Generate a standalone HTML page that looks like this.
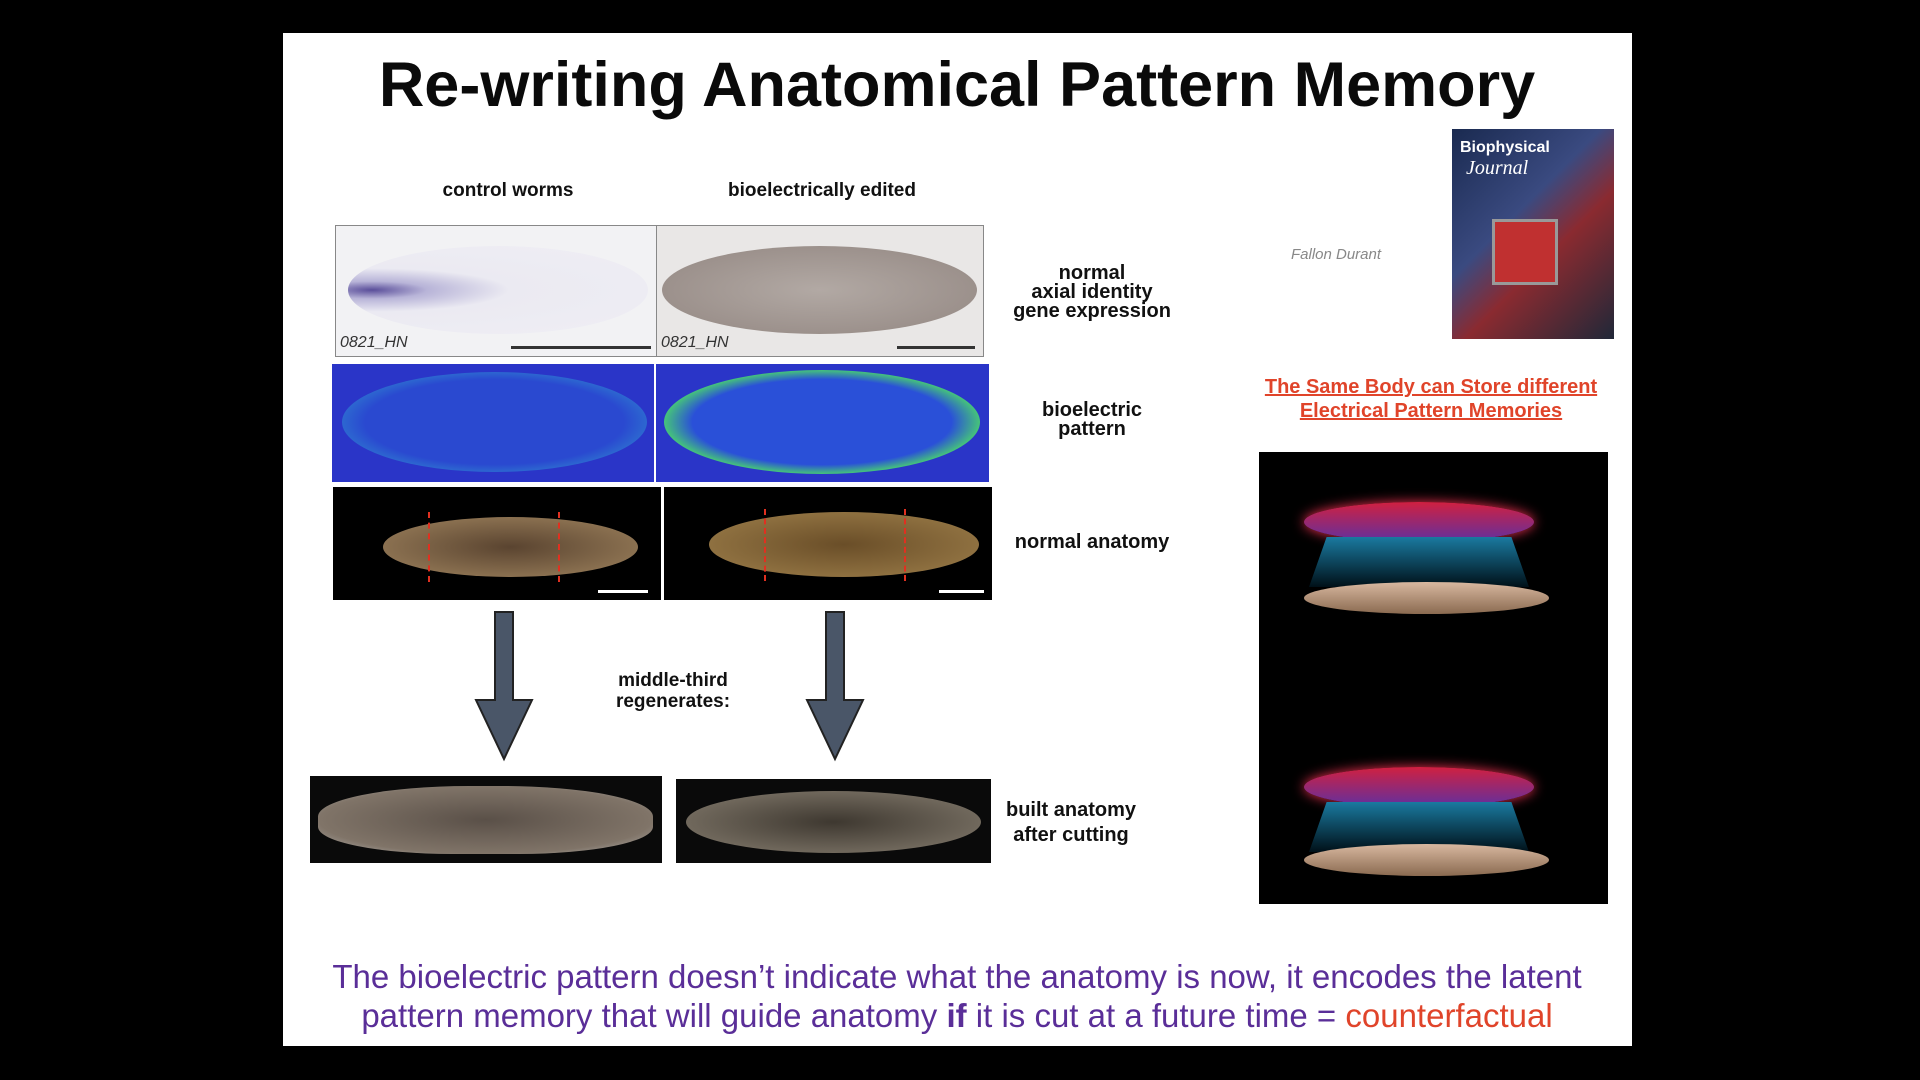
<!DOCTYPE html>
<html><head><meta charset="utf-8"><style>
body{margin:0;width:1920px;height:1080px;background:#000;position:relative;overflow:hidden;font-family:"Liberation Sans",sans-serif}
.slide{position:absolute;left:283px;top:33px;width:1349px;height:1013px;background:#fff}
.a{position:absolute}
.t{position:absolute;text-align:center;font-weight:bold;color:#111;font-size:19px;line-height:19px;transform:translateX(-50%);white-space:nowrap}
.img{position:absolute;overflow:hidden}
.worm{position:absolute;border-radius:50%}
</style></head><body>
<div class="slide"></div>
<div class="t" style="left:957px;top:50px;font-size:63px;line-height:70px;color:#0a0a0a">Re-writing Anatomical Pattern Memory</div>
<div class="t" style="left:508px;top:181px">control worms</div>
<div class="t" style="left:822px;top:181px">bioelectrically edited</div>

<div class="img" style="left:335px;top:225px;width:321px;height:130px;background:#f2f2f4;border:1px solid #888"><div class="worm" style="left:12px;top:20px;width:300px;height:88px;background:radial-gradient(ellipse at 8% 50%,#5a4e9a 0,#b8b4d8 14%,#ebeaf2 35%,#efeef4 100%)"></div><div class="a" style="left:4px;top:108px;font-style:italic;font-size:16px;color:#333">0821_HN</div><div class="a" style="left:175px;top:120px;width:140px;height:3px;background:#333"></div></div>
<div class="img" style="left:656px;top:225px;width:326px;height:130px;background:#e9e7e6;border:1px solid #888"><div class="worm" style="left:5px;top:20px;width:315px;height:88px;background:radial-gradient(ellipse at 50% 50%,#b2a9a4,#9c918c 70%)"></div><div class="a" style="left:4px;top:108px;font-style:italic;font-size:16px;color:#333">0821_HN</div><div class="a" style="left:240px;top:120px;width:78px;height:3px;background:#333"></div></div>
<div class="img" style="left:332px;top:364px;width:322px;height:118px;background:#2a35c8"><div class="worm" style="left:10px;top:8px;width:305px;height:100px;background:radial-gradient(ellipse,#2a49d0 60%,#2f8fd0 85%,#40c080 100%)"></div></div>
<div class="img" style="left:656px;top:364px;width:333px;height:118px;background:#2a35c8"><div class="worm" style="left:8px;top:6px;width:316px;height:104px;background:radial-gradient(ellipse,#2a50d8 58%,#48d070 72%,#c04040 80%,#50c070 90%,#2f6fd0 100%)"></div></div>
<div class="img" style="left:333px;top:487px;width:328px;height:113px;background:#000"><div class="worm" style="left:50px;top:30px;width:255px;height:60px;background:radial-gradient(ellipse,#5a4430,#8a7050 70%,#c8c0b0 100%)"></div><div class="a" style="left:95px;top:25px;height:70px;border-left:2px dashed #e03020"></div><div class="a" style="left:225px;top:25px;height:70px;border-left:2px dashed #e03020"></div><div class="a" style="left:265px;top:103px;width:50px;height:3px;background:#fff"></div></div>
<div class="img" style="left:664px;top:487px;width:328px;height:113px;background:#000"><div class="worm" style="left:45px;top:25px;width:270px;height:65px;background:radial-gradient(ellipse,#6a4e28,#8e7040 70%,#c8c0b0 100%)"></div><div class="a" style="left:100px;top:22px;height:72px;border-left:2px dashed #e03020"></div><div class="a" style="left:240px;top:22px;height:72px;border-left:2px dashed #e03020"></div><div class="a" style="left:275px;top:103px;width:45px;height:3px;background:#fff"></div></div>
<svg class="a" style="left:0;top:0" width="1920" height="1080"><g fill="#4a5668" stroke="#222" stroke-width="2"><polygon points="495,612 513,612 513,700 532,700 504,759 476,700 495,700"/><polygon points="826,612 844,612 844,700 863,700 835,759 807,700 826,700"/></g></svg>
<div class="t" style="left:673px;top:670px;line-height:21px">middle-third<br>regenerates:</div>
<div class="img" style="left:310px;top:776px;width:352px;height:87px;background:#0a0a0a"><div class="worm" style="left:8px;top:10px;width:335px;height:68px;border-radius:45% 45% 40% 40%;background:radial-gradient(ellipse,#5a5048,#807468 70%,#bbb 100%)"></div></div>
<div class="img" style="left:676px;top:779px;width:315px;height:84px;background:#0a0a0a"><div class="worm" style="left:10px;top:12px;width:295px;height:62px;background:radial-gradient(ellipse,#3e3830,#70685c 70%,#bab6b0 100%)"></div></div>
<div class="t" style="left:1092px;top:264px;font-size:20px;line-height:19px">normal<br>axial identity<br>gene expression</div>
<div class="t" style="left:1092px;top:401px;font-size:20px">bioelectric<br>pattern</div>
<div class="t" style="left:1092px;top:533px;font-size:20px">normal anatomy</div>
<div class="t" style="left:1071px;top:798px;line-height:25px;font-size:20px">built anatomy<br>after cutting</div>
<div class="t" style="left:1336px;top:245px;font-weight:normal;font-style:italic;color:#888;font-size:15px">Fallon Durant</div>
<div class="img" style="left:1452px;top:129px;width:162px;height:210px;background:linear-gradient(135deg,#1a2a50,#3a4a80 40%,#8a2a30 60%,#202838)"><div class="a" style="left:8px;top:10px;color:#fff;font-size:16px;font-weight:bold">Biophysical</div><div class="a" style="left:14px;top:28px;color:#fff;font-size:20px;font-style:italic;font-family:'Liberation Serif',serif">Journal</div><div class="a" style="left:40px;top:90px;width:60px;height:60px;background:#c03030;border:3px solid #999"></div></div>
<div class="t" style="left:1431px;top:375px;color:#e0442a;text-decoration:underline;line-height:24px;font-size:20px">The Same Body can Store different<br>Electrical Pattern Memories</div>
<div class="img" style="left:1259px;top:452px;width:349px;height:452px;background:#000">
<div class="worm" style="left:45px;top:50px;width:230px;height:40px;background:linear-gradient(#d02040,#6030a0);box-shadow:0 0 12px #f03050"></div>
<div class="a" style="left:50px;top:85px;width:220px;height:50px;background:linear-gradient(#1a7aa0,#001018);clip-path:polygon(8% 0,92% 0,100% 100%,0 100%)"></div>
<div class="worm" style="left:45px;top:130px;width:245px;height:32px;background:linear-gradient(#d8b8a0,#8a6a50)"></div>
<div class="worm" style="left:45px;top:315px;width:230px;height:40px;background:linear-gradient(#d02040,#6030a0);box-shadow:0 0 12px #f03050"></div>
<div class="a" style="left:50px;top:350px;width:220px;height:50px;background:linear-gradient(#1a7aa0,#001018);clip-path:polygon(8% 0,92% 0,100% 100%,0 100%)"></div>
<div class="worm" style="left:45px;top:392px;width:245px;height:32px;background:linear-gradient(#d8b8a0,#8a6a50)"></div>
</div>
<div class="t" style="left:957px;top:957px;font-weight:normal;font-size:33px;line-height:39px;color:#5a2e98">The bioelectric pattern doesn’t indicate what the anatomy is now, it encodes the latent<br>pattern memory that will guide anatomy <b>if</b> it is cut at a future time = <span style="color:#e0442a">counterfactual</span></div>
</body></html>
